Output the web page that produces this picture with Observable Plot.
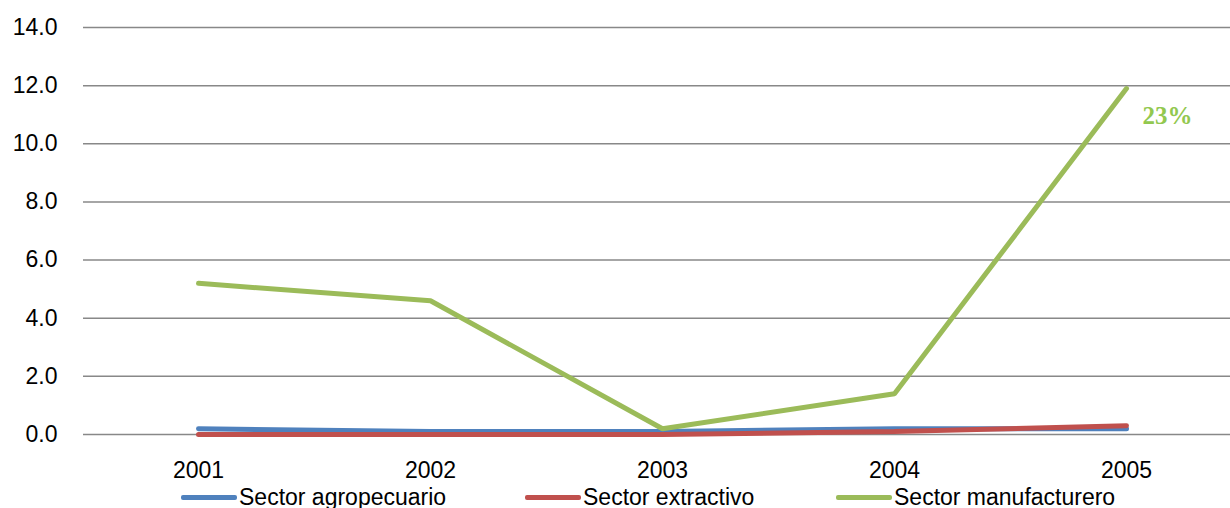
<!DOCTYPE html>
<html>
<head>
<meta charset="utf-8">
<script src="https://cdn.jsdelivr.net/npm/d3@7"></script>
<script src="https://cdn.jsdelivr.net/npm/@observablehq/plot@0.6"></script>
<style>
  html, body { margin: 0; padding: 0; background: #fff; }
  #wrap { position: relative; width: 1230px; height: 508px; overflow: hidden; font-family: "Liberation Sans", Arial, sans-serif; }
  #legend { position: absolute; left: 0; top: 484px; width: 1230px; height: 24px; font-size: 23px; color: #000; }
  .item { position: absolute; top: 0; display: flex; align-items: center; height: 26px; }
  .sw { width: 56px; height: 5px; border-radius: 2px; margin-right: 2px; }
</style>
</head>
<body>
<div id="wrap"><div id="chart"></div><div id="legend"></div></div>
<script>
const years = ["2001", "2002", "2003", "2004", "2005"];
const seriesNames = ["Sector agropecuario", "Sector extractivo", "Sector manufacturero"];
const agropecuario = [0.2, 0.1, 0.1, 0.2, 0.2];
const extractivo = [0.0, 0.0, 0.0, 0.1, 0.3];
const manufacturero = [5.2, 4.6, 0.2, 1.4, 11.9];
const colors = ["#4F81BD", "#C0504D", "#9BBB59"];
const yTicks = [0, 2, 4, 6, 8, 10, 12, 14];
const annotation = {year: "2005", value: 11.9, text: "23%"};

const allSeries = [agropecuario, extractivo, manufacturero];
const data = [];
seriesNames.forEach((name, i) => {
  years.forEach((y, j) => data.push({series: name, year: y, value: allSeries[i][j]}));
});

const chart = Plot.plot({
  width: 1230,
  height: 484,
  marginTop: 27,
  marginBottom: 50,
  marginLeft: 83,
  marginRight: 0,
  style: {fontFamily: "Liberation Sans, Arial, sans-serif", fontSize: "23px", color: "#000", background: "#fff"},
  x: {type: "point", domain: years, range: [197, 1126], padding: 0, label: null},
  y: {domain: [0, 14], label: null},
  color: {domain: seriesNames, range: colors},
  marks: [
    Plot.ruleY(yTicks, {stroke: "#888", strokeWidth: 1.5}),
    Plot.axisY(yTicks, {tickSize: 0, tickPadding: 26, tickFormat: d3.format(".1f"), fontSize: 23, fill: "#000", label: null}),
    Plot.axisX({tickSize: 0, tickPadding: 27, fontSize: 23, fill: "#000", label: null}),
    Plot.line(data, {x: "year", y: "value", z: "series", stroke: "series", strokeWidth: 5, strokeLinecap: "round", strokeLinejoin: "miter"}),
    Plot.text([annotation], {x: "year", y: "value", text: "text", dx: 41, dy: 27, fill: "#92C84F", fontSize: 25, fontWeight: "bold", fontFamily: "Liberation Serif, Times New Roman, serif"})
  ]
});
document.getElementById("chart").appendChild(chart);

const legend = document.getElementById("legend");
const legendX = [181, 525, 836];
seriesNames.forEach((name, i) => {
  const it = document.createElement("div");
  it.className = "item";
  it.style.left = legendX[i] + "px";
  const sw = document.createElement("div");
  sw.className = "sw";
  sw.style.background = colors[i];
  const t = document.createElement("span");
  t.textContent = name;
  it.appendChild(sw); it.appendChild(t);
  legend.appendChild(it);
});
</script>
</body>
</html>
